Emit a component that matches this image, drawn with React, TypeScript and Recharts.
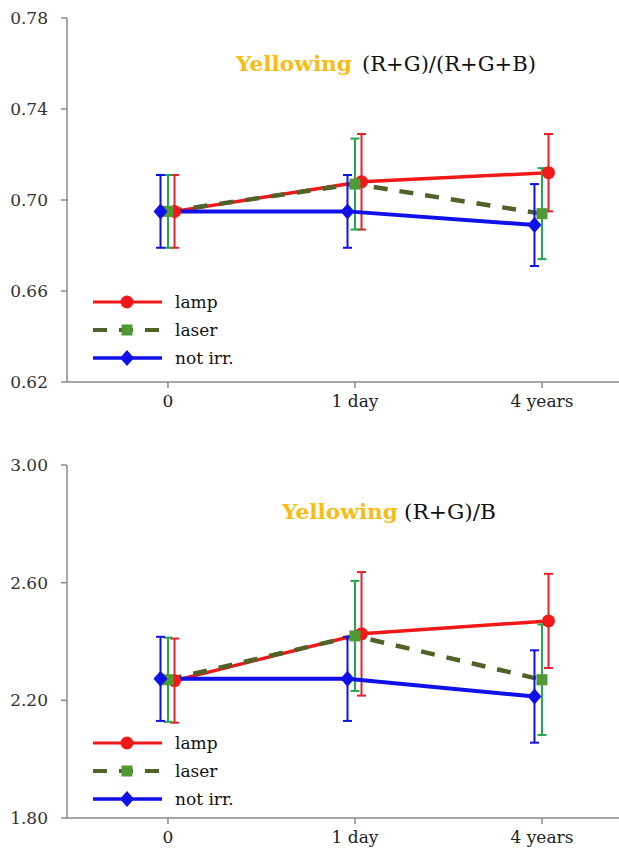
import React from 'react';
import { LineChart, Line, XAxis, YAxis, ErrorBar, Legend } from 'recharts';

// ---- data ----
const categories = ['0', '1 day', '4 years'];
const catX = [0, 1, 2];
const seriesNames = ['lamp', 'laser', 'not irr.'];

// Top chart: (R+G)/(R+G+B)
const lampTop = [0.695, 0.708, 0.712];
const lampTopErr = [0.016, 0.021, 0.017];
const laserTop = [0.695, 0.707, 0.694];
const laserTopErr = [0.016, 0.02, 0.02];
const notTop = [0.695, 0.695, 0.689];
const notTopErr = [0.016, 0.016, 0.018];
const topTicks = [0.62, 0.66, 0.7, 0.74, 0.78];

// Bottom chart: (R+G)/B
const lampBot = [2.267, 2.426, 2.47];
const lampBotErr = [0.143, 0.21, 0.16];
const laserBot = [2.27, 2.419, 2.27];
const laserBotErr = [0.143, 0.187, 0.188];
const notBot = [2.273, 2.273, 2.213];
const notBotErr = [0.143, 0.143, 0.157];
const botTicks = [1.8, 2.2, 2.6, 3.0];

// horizontal jitter of each series around its category
const lampShift = 0.035;
const laserShift = 0;
const notShift = -0.04;

const RED = '#f01818';
const RED_ERR = '#e8202a';
const GREEN_ERR = '#20a84c';
const GREEN_SQ = '#4f9a36';
const OLIVE = '#4f6228';
const BLUE = '#1010e8';
const GOLD = '#f7bc15';
const AXIS = '#8a8a8a';
const FONT = "'DejaVu Serif', 'Liberation Serif', serif";

const rows = (vals: number[], errs: number[], shift: number) =>
  catX.map((c, i) => ({ x: c + shift, y: vals[i], err: errs[i] }));

const CircleDot = (p: any) => (
  <circle key={`c${p.index}`} cx={p.cx} cy={p.cy} r={6.5} fill={RED} />
);
const SquareDot = (p: any) => (
  <rect key={`s${p.index}`} x={p.cx - 5.5} y={p.cy - 5.5} width={11} height={11} fill={GREEN_SQ} />
);
const DiamondDot = (p: any) => (
  <polygon
    key={`d${p.index}`}
    points={`${p.cx},${p.cy - 8} ${p.cx + 7},${p.cy} ${p.cx},${p.cy + 8} ${p.cx - 7},${p.cy}`}
    fill={BLUE}
  />
);

const textStyle = { fontFamily: FONT };

const LegendBox = () => (
  <svg width={200} height={90} style={{ display: 'block' }}>
    {/* lamp */}
    <line x1={3} y1={14} x2={72} y2={14} stroke={RED} strokeWidth={3} />
    <circle cx={37} cy={14} r={6.5} fill={RED} />
    <text x={85} y={20} style={textStyle} fontSize={17} fill="#111">{seriesNames[0]}</text>
    {/* laser */}
    <line x1={3} y1={42} x2={72} y2={42} stroke={OLIVE} strokeWidth={4} strokeDasharray="14 12" />
    <rect x={31.5} y={36.5} width={11} height={11} fill={GREEN_SQ} />
    <text x={85} y={48} style={textStyle} fontSize={17} fill="#111">{seriesNames[1]}</text>
    {/* not irr */}
    <line x1={3} y1={70} x2={72} y2={70} stroke={BLUE} strokeWidth={3.5} />
    <polygon points="37,62 44,70 37,78 30,70" fill={BLUE} />
    <text x={85} y={76} style={textStyle} fontSize={17} fill="#111">{seriesNames[2]}</text>
  </svg>
);

type PanelProps = {
  height: number;
  top: number;
  lamp: number[]; lampErr: number[];
  laser: number[]; laserErr: number[];
  notIrr: number[]; notErr: number[];
  ticks: number[];
  legendTop: number;
};

const Panel = (p: PanelProps) => (
  <LineChart width={619} height={p.height} margin={{ top: p.top, right: 0, bottom: 0, left: 0 }} style={{ fontFamily: FONT }}>
    <XAxis
      type="number"
      dataKey="x"
      domain={[-0.54, 2.412]}
      ticks={catX}
      tickFormatter={(v: number) => categories[Math.round(v)]}
      allowDataOverflow
      height={30}
      stroke={AXIS}
      strokeWidth={1.5}
      tickSize={6}
      tickMargin={7}
      tick={{ fill: '#222', fontSize: 17, style: textStyle }}
    />
    <YAxis
      type="number"
      domain={[p.ticks[0], p.ticks[p.ticks.length - 1]]}
      ticks={p.ticks}
      tickFormatter={(v: number) => v.toFixed(2)}
      width={67}
      stroke={AXIS}
      strokeWidth={1.5}
      tickSize={6}
      tickMargin={13}
      tick={{ fill: '#333', fontSize: 17, style: textStyle }}
    />
    <Legend
      layout="vertical"
      align="center"
      verticalAlign="middle"
      content={() => <LegendBox />}
      wrapperStyle={{ left: 90, top: p.legendTop, width: 200, height: 90 }}
    />
    <Line
      data={rows(p.lamp, p.lampErr, lampShift)}
      dataKey="y"
      type="linear"
      stroke={RED}
      strokeWidth={3.5}
      dot={CircleDot}
      activeDot={false}
      isAnimationActive={false}
    >
      <ErrorBar dataKey="err" direction="y" width={4.5} stroke={RED_ERR} strokeWidth={2} />
    </Line>
    <Line
      data={rows(p.laser, p.laserErr, laserShift)}
      dataKey="y"
      type="linear"
      stroke={OLIVE}
      strokeWidth={4.5}
      strokeDasharray="14 12"
      dot={SquareDot}
      activeDot={false}
      isAnimationActive={false}
    >
      <ErrorBar dataKey="err" direction="y" width={4.5} stroke={GREEN_ERR} strokeWidth={2} />
    </Line>
    <Line
      data={rows(p.notIrr, p.notErr, notShift)}
      dataKey="y"
      type="linear"
      stroke={BLUE}
      strokeWidth={4}
      dot={DiamondDot}
      activeDot={false}
      isAnimationActive={false}
    >
      <ErrorBar dataKey="err" direction="y" width={4.5} stroke={BLUE} strokeWidth={2} />
    </Line>
  </LineChart>
);

const Title = ({ x, y, formula, w1, w2, gap }: { x: number; y: number; formula: string; w1: number; w2: number; gap: number }) => (
  <svg width={619} height={40} style={{ position: 'absolute', left: 0, top: y - 28, pointerEvents: 'none' }}>
    <text x={x} y={28} style={textStyle} fontSize={21} fontWeight="bold" fill={GOLD} textLength={w1} lengthAdjust="spacingAndGlyphs">Yellowing</text>
    <text x={x + w1 + gap} y={28} style={textStyle} fontSize={21} fill="#111" textLength={w2} lengthAdjust="spacingAndGlyphs">{formula}</text>
  </svg>
);

export default function App() {
  return (
    <div style={{ position: 'absolute', left: 0, top: 0, width: 619, height: 852, background: '#fff' }}>
      <div style={{ position: 'absolute', left: 0, top: 0 }}>
        <Panel
          height={412}
          top={18}
          lamp={lampTop} lampErr={lampTopErr}
          laser={laserTop} laserErr={laserTopErr}
          notIrr={notTop} notErr={notTopErr}
          ticks={topTicks}
          legendTop={288}
        />
      </div>
      <div style={{ position: 'absolute', left: 0, top: 412 }}>
        <Panel
          height={436}
          top={53}
          lamp={lampBot} lampErr={lampBotErr}
          laser={laserBot} laserErr={laserBotErr}
          notIrr={notBot} notErr={notBotErr}
          ticks={botTicks}
          legendTop={317}
        />
      </div>
      <Title x={236} y={71} formula="(R+G)/(R+G+B)" w1={116} w2={174} gap={10} />
      <Title x={282} y={519} formula="(R+G)/B" w1={116} w2={92} gap={6} />
    </div>
  );
}
